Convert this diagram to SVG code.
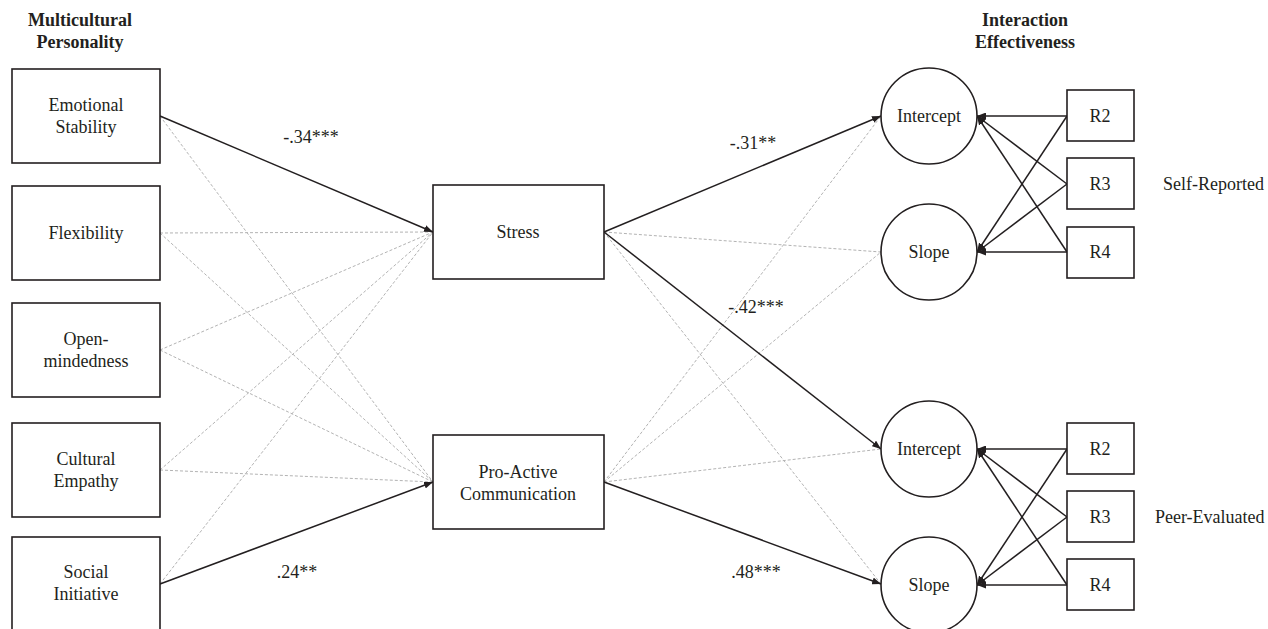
<svg xmlns="http://www.w3.org/2000/svg" width="1268" height="629" viewBox="0 0 1268 629">
<defs>
<marker id="ah" markerUnits="userSpaceOnUse" markerWidth="9" markerHeight="7" refX="9" refY="3.5" orient="auto">
<path d="M0,0 L9,3.5 L0,7 z" fill="#231f20"/>
</marker>
<style>
text{font-family:"Liberation Serif","Times New Roman",serif;font-size:18px;fill:#231f20;text-anchor:middle}
.h{font-weight:bold}
.l{text-anchor:start}
.box{fill:#fff;stroke:#231f20;stroke-width:1.6}
.s{stroke:#231f20;stroke-width:1.5;fill:none}
.sa{stroke:#231f20;stroke-width:1.5;fill:none;marker-end:url(#ah)}
.d{stroke:#b3b3b3;stroke-width:1;stroke-dasharray:3 2;fill:none}
</style>
</defs>
<rect width="1268" height="629" fill="#fff"/>
<g id="headings">
<text class="h" x="80" y="26">Multicultural</text>
<text class="h" x="80" y="48">Personality</text>
<text class="h" x="1025" y="26">Interaction</text>
<text class="h" x="1025" y="48">Effectiveness</text>
</g>
<g id="connectors">
<line class="d" x1="160" y1="116" x2="433" y2="482"/>
<line class="d" x1="160" y1="233" x2="433" y2="232"/>
<line class="d" x1="160" y1="233" x2="433" y2="482"/>
<line class="d" x1="160" y1="350" x2="433" y2="232"/>
<line class="d" x1="160" y1="350" x2="433" y2="482"/>
<line class="d" x1="160" y1="470" x2="433" y2="232"/>
<line class="d" x1="160" y1="470" x2="433" y2="482"/>
<line class="d" x1="160" y1="584" x2="433" y2="232"/>
<line class="sa" x1="160" y1="116" x2="433" y2="232"/>
<line class="sa" x1="160" y1="584" x2="433" y2="482"/>
<line class="d" x1="604" y1="232" x2="881" y2="252"/>
<line class="d" x1="604" y1="232" x2="881" y2="584"/>
<line class="d" x1="604" y1="482" x2="881" y2="116"/>
<line class="d" x1="604" y1="482" x2="881" y2="252"/>
<line class="d" x1="604" y1="482" x2="881" y2="449"/>
<line class="sa" x1="604" y1="232" x2="881" y2="116"/>
<line class="sa" x1="604" y1="232" x2="881" y2="449"/>
<line class="sa" x1="604" y1="482" x2="881" y2="584"/>
<line class="sa" x1="1067" y1="116" x2="977" y2="116"/>
<line class="sa" x1="1067" y1="184" x2="977" y2="116"/>
<line class="sa" x1="1067" y1="252" x2="977" y2="116"/>
<line class="sa" x1="1067" y1="116" x2="977" y2="252"/>
<line class="sa" x1="1067" y1="184" x2="977" y2="252"/>
<line class="sa" x1="1067" y1="252" x2="977" y2="252"/>
<line class="sa" x1="1067" y1="449" x2="977" y2="449"/>
<line class="sa" x1="1067" y1="517" x2="977" y2="449"/>
<line class="sa" x1="1067" y1="585" x2="977" y2="449"/>
<line class="sa" x1="1067" y1="449" x2="977" y2="585"/>
<line class="sa" x1="1067" y1="517" x2="977" y2="585"/>
<line class="sa" x1="1067" y1="585" x2="977" y2="585"/>
<text x="311" y="143">-.34***</text>
<text x="297" y="578">.24**</text>
<text x="753" y="149">-.31**</text>
<text x="756" y="313">-.42***</text>
<text x="756" y="578">.48***</text>
</g>
<g id="emotional-stability"><rect class="box" x="12" y="69" width="148" height="94"/><text x="86" y="111">Emotional</text><text x="86" y="133">Stability</text></g>
<g id="flexibility"><rect class="box" x="12" y="186" width="148" height="94"/><text x="86" y="239">Flexibility</text></g>
<g id="open-mindedness"><rect class="box" x="12" y="303" width="148" height="94"/><text x="86" y="345">Open-</text><text x="86" y="367">mindedness</text></g>
<g id="cultural-empathy"><rect class="box" x="12" y="423" width="148" height="94"/><text x="86" y="465">Cultural</text><text x="86" y="487">Empathy</text></g>
<g id="social-initiative"><rect class="box" x="12" y="537" width="148" height="100"/><text x="86" y="578">Social</text><text x="86" y="600">Initiative</text></g>
<g id="stress"><rect class="box" x="433" y="185" width="171" height="94"/><text x="518" y="238">Stress</text></g>
<g id="pro-active"><rect class="box" x="433" y="435" width="171" height="94"/><text x="518" y="478">Pro-Active</text><text x="518" y="500">Communication</text></g>
<g id="sr-intercept"><circle class="box" cx="929" cy="116" r="48"/><text x="929" y="122">Intercept</text></g>
<g id="sr-slope"><circle class="box" cx="929" cy="252" r="48"/><text x="929" y="258">Slope</text></g>
<g id="pe-intercept"><circle class="box" cx="929" cy="449" r="48"/><text x="929" y="455">Intercept</text></g>
<g id="pe-slope"><circle class="box" cx="929" cy="585" r="48"/><text x="929" y="591">Slope</text></g>
<g id="sr-r2"><rect class="box" x="1067" y="90" width="67" height="51"/><text x="1100" y="122">R2</text></g>
<g id="sr-r3"><rect class="box" x="1067" y="158" width="67" height="51"/><text x="1100" y="190">R3</text></g>
<g id="sr-r4"><rect class="box" x="1067" y="227" width="67" height="51"/><text x="1100" y="258">R4</text></g>
<g id="pe-r2"><rect class="box" x="1067" y="423" width="67" height="51"/><text x="1100" y="455">R2</text></g>
<g id="pe-r3"><rect class="box" x="1067" y="491" width="67" height="51"/><text x="1100" y="523">R3</text></g>
<g id="pe-r4"><rect class="box" x="1067" y="559" width="67" height="51"/><text x="1100" y="591">R4</text></g>
<g id="group-labels">
<text class="l" x="1163" y="190">Self-Reported</text>
<text class="l" x="1155" y="523">Peer-Evaluated</text>
</g>
</svg>
